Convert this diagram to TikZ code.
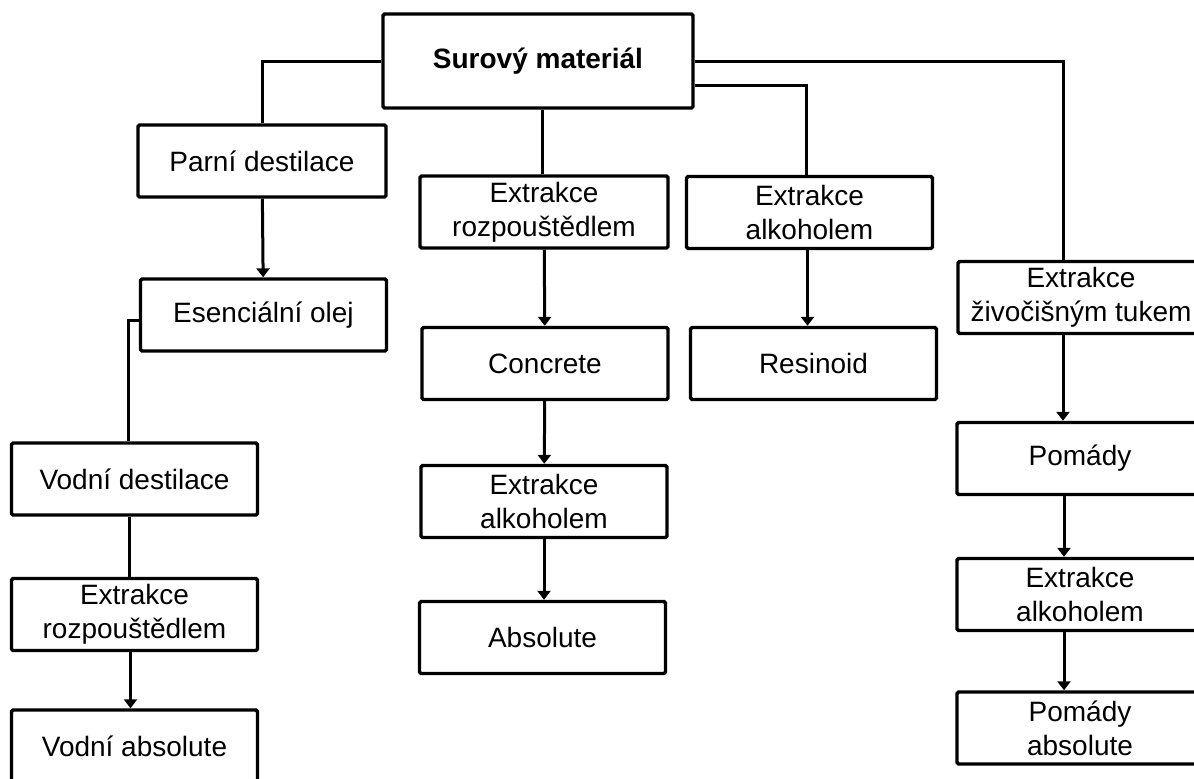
\documentclass[tikz,border=0pt]{standalone}
\usepackage{fontspec}
\setmainfont{Liberation Sans}
\usetikzlibrary{arrows.meta,positioning}

\begin{document}
\begin{tikzpicture}[
    x=0.5pt, y=-0.5pt,
    box/.style={draw, line width=1.7pt, rounded corners=0.8pt, align=center,
                minimum width=123pt, minimum height=36pt, inner sep=2pt,
                font=\fontsize{14}{17}\selectfont},
    conn/.style={line width=1.5pt},
    arr/.style={-{Triangle[length=4.5pt,width=6.5pt]}, line width=1.5pt}
  ]
  \useasboundingbox (0,0) rectangle (1194,778);
  \clip (0,0) rectangle (1194,778);

  \node[box, minimum width=155pt, minimum height=47pt,
        font=\fontsize{14}{17}\selectfont\bfseries] (raw) at (538,61) {Surový materiál};

  % left branch
  \node[box, minimum width=124pt] (steam) at (262,161)   {Parní destilace};
  \node[box] (oil)   at (263.5,315) {Esenciální olej};
  \node[box] (water) at (134.5,479) {Vodní destilace};
  \node[box] (lsolv) at (134.5,614.5) {Extrakce\\rozpouštědlem};
  \node[box] (wabs)  at (134.5,746) {Vodní absolute};

  % middle branch
  \node[box, minimum width=124pt] (solv) at (544,212) {Extrakce\\rozpouštědlem};
  \node[box] (conc)  at (545,363.5) {Concrete};
  \node[box] (malc)  at (544,501.5) {Extrakce\\alkoholem};
  \node[box] (abs)   at (542.5,637.5) {Absolute};

  % alcohol branch
  \node[box] (alc)   at (809.5,212.5) {Extrakce\\alkoholem};
  \node[box] (resin) at (813.5,363.5) {Resinoid};

  % fat branch
  \node[box] (fat)   at (1081,297.5) {Extrakce\\živočišným tukem};
  \node[box] (pom)   at (1080,458.5) {Pomády};
  \node[box] (palc)  at (1080,594.5) {Extrakce\\alkoholem};
  \node[box] (pabs)  at (1080,728)   {Pomády\\absolute};

  \draw[conn] (raw.west) -| (steam.north);
  \draw[conn] ([xshift=-1pt]solv.north |- raw.south) -- ([xshift=-1pt]solv.north);
  \draw[conn] ([yshift=12pt]raw.south east) -| ([xshift=-1.5pt]alc.north);
  \draw[conn] (raw.east) -| ([xshift=-9pt]fat.north);

  \draw[arr]  (steam) -- (oil);
  \draw[conn] ([yshift=-2.5pt]oil.west) -| ([xshift=-3pt]water.north);
  \draw[conn] ([xshift=-2.5pt]water.south) -- ([xshift=-2.5pt]lsolv.north);
  \draw[arr]  ([xshift=-2pt]lsolv.south) -- ([xshift=-2pt]wabs.north);

  \draw[arr] (solv) -- (conc);
  \draw[arr] (conc) -- (malc);
  \draw[arr] (malc) -- (malc.south |- abs.north);

  \draw[arr] ([xshift=-1pt]alc.south) -- ([xshift=-1pt]alc.south |- resin.north);

  \draw[arr] ([xshift=-9pt]fat.south) -- ([xshift=-9pt]fat.south |- pom.north);
  \draw[arr] ([xshift=-8pt]pom.south) -- ([xshift=-8pt]palc.north);
  \draw[arr] ([xshift=-8pt]palc.south) -- ([xshift=-8pt]pabs.north);
\end{tikzpicture}
\end{document}
